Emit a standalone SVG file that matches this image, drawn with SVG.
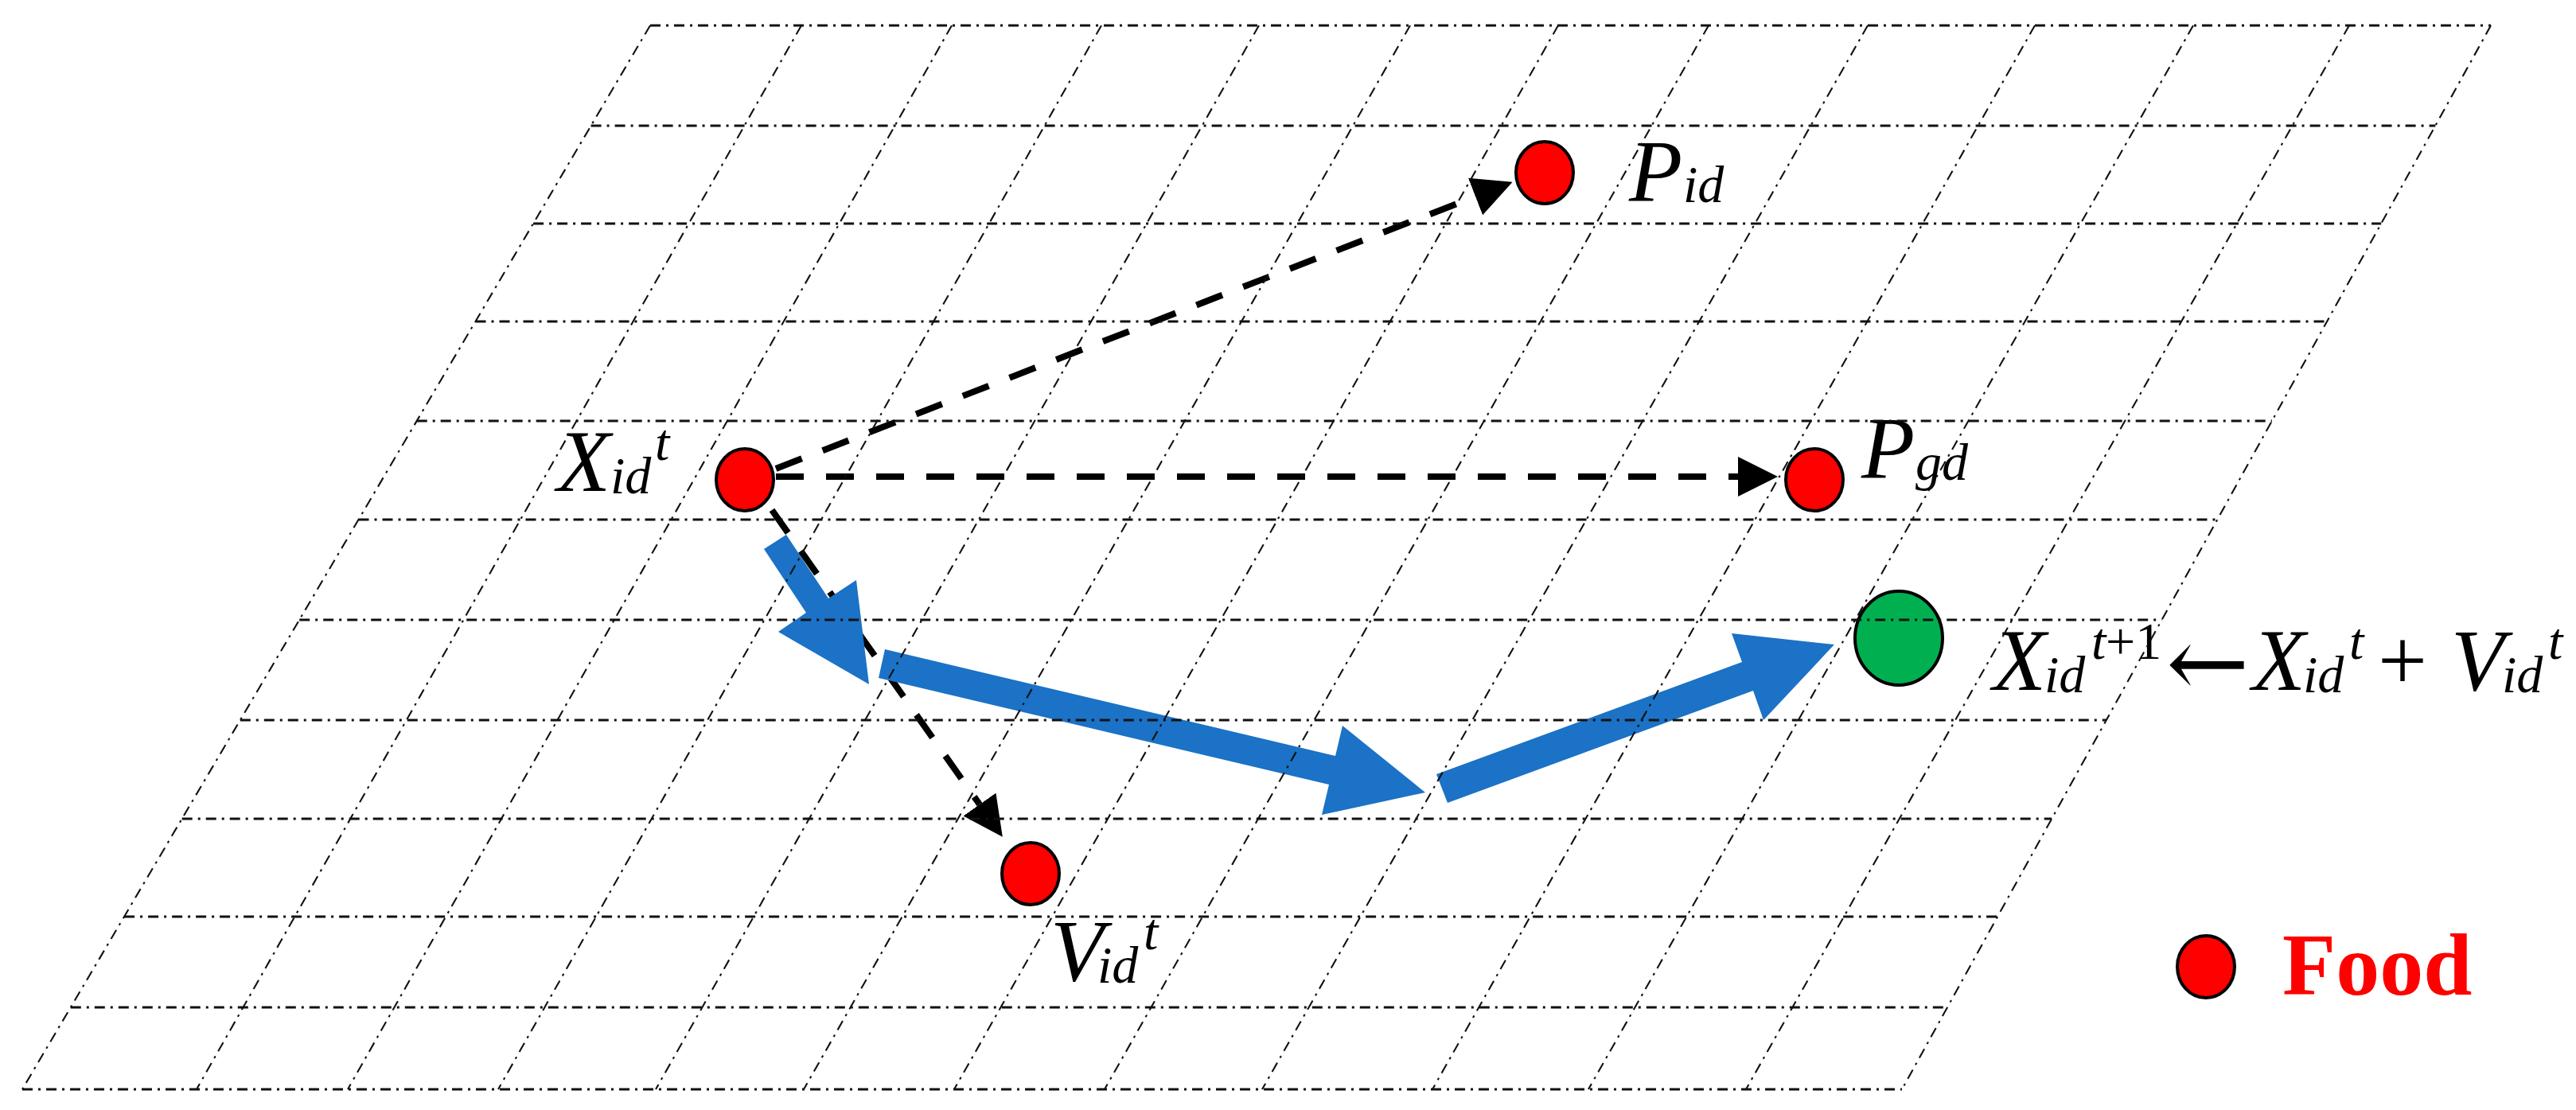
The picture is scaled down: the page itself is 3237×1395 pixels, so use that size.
<svg xmlns="http://www.w3.org/2000/svg" width="3237" height="1395" viewBox="0 0 3237 1395">
<style>
.h{stroke:#111;stroke-width:2.8;stroke-dasharray:13 7 3 7;fill:none}
.v{stroke:#111;stroke-width:2.1;stroke-dasharray:13 7 3 7;fill:none}
.dash{stroke:#000;stroke-width:8;stroke-dasharray:35 28;fill:none;marker-end:url(#ah)}
.blue{fill:#1B72C6;stroke:none}
.red{fill:#FF0000;stroke:#000;stroke-width:4}
.green{fill:#00B050;stroke:#000;stroke-width:4}
.m{font-family:"Liberation Serif","Times New Roman",serif;font-style:italic;font-size:110px;fill:#000}
.s{font-size:66px}
.up{font-style:normal}
.arr{font-family:"DejaVu Serif","Liberation Serif",serif;font-style:normal;font-size:125px}
.food{font-family:"Liberation Serif","Times New Roman",serif;font-weight:bold;font-size:110px;fill:#FF0000}
</style>
<defs>
<marker id="ah" markerUnits="userSpaceOnUse" viewBox="0 0 50 50" refX="0" refY="25" markerWidth="50" markerHeight="50" orient="auto">
<path d="M0,0 L50,25 L0,50 z" fill="#000"/>
</marker>
</defs>
<rect width="3237" height="1395" fill="#fff"/>

<g id="connectors">
<path class="dash" d="M975,589 L1854,247"/>
<path class="dash" d="M975,599 L2184,599"/>
<path class="dash" d="M970,641 L1231,1011"/>
<polygon class="blue" points="960,690 988,672 1041,752 1076,729 1092,860 978,794 1013,770"/>
<polygon class="blue" points="1112,816 1678,950 1687,912 1791,996 1661,1024 1670,986 1104,852"/>
<polygon class="blue" points="1805,973 2189,832 2176,796 2305,810 2216,905 2203,868 1819,1009"/>
</g>

<g id="node-xid">
<ellipse class="red" cx="936" cy="603" rx="36" ry="39"/>
<text class="m"><tspan x="700" y="617">X</tspan><tspan class="s" x="767" y="620">id</tspan><tspan class="s" x="823" y="578">t</tspan></text>
</g>
<g id="node-pid">
<ellipse class="red" cx="1941" cy="217" rx="36" ry="39"/>
<text class="m"><tspan x="2047" y="252">P</tspan><tspan class="s" x="2115" y="254">id</tspan></text>
</g>
<g id="node-pgd">
<ellipse class="red" cx="2280" cy="603" rx="36" ry="39"/>
<text class="m"><tspan x="2339" y="600">P</tspan><tspan class="s" x="2407" y="603">gd</tspan></text>
</g>
<g id="node-vid">
<ellipse class="red" cx="1295" cy="1098" rx="36" ry="39"/>
<text class="m"><tspan x="1320" y="1232">V</tspan><tspan class="s" x="1379" y="1235">id</tspan><tspan class="s" x="1437" y="1193">t</tspan></text>
</g>
<g id="node-xnext">
<ellipse class="green" cx="2386" cy="802" rx="55" ry="59"/>
<text class="m"><tspan x="2504" y="867">X</tspan><tspan class="s" x="2569" y="870">id</tspan><tspan class="s" x="2628" y="828">t</tspan><tspan class="s up" x="2646" y="828">+1</tspan><tspan class="arr" x="2722" y="876">←</tspan><tspan x="2830" y="867">X</tspan><tspan class="s" x="2894" y="870">id</tspan><tspan class="s" x="2952" y="828">t</tspan><tspan class="up" x="2988" y="867">+</tspan><tspan x="3080" y="867">V</tspan><tspan class="s" x="3144" y="870">id</tspan><tspan class="s" x="3202" y="828">t</tspan></text>
</g>
<g id="legend-food">
<ellipse class="red" cx="2772" cy="1215" rx="36" ry="39"/>
<text class="food" x="2868" y="1250">Food</text>
</g>

<g id="grid">
<line class="h" x1="817" y1="32" x2="3130" y2="32"/>
<line class="h" x1="742.6" y1="158" x2="3060.3" y2="158"/>
<line class="h" x1="670.1" y1="281" x2="2992.2" y2="281"/>
<line class="h" x1="597.5" y1="404" x2="2924.1" y2="404"/>
<line class="h" x1="523.7" y1="529" x2="2854.9" y2="529"/>
<line class="h" x1="450.5" y1="653" x2="2786.3" y2="653"/>
<line class="h" x1="376.2" y1="779" x2="2716.5" y2="779"/>
<line class="h" x1="301.8" y1="905" x2="2646.8" y2="905"/>
<line class="h" x1="228.7" y1="1029" x2="2578.2" y2="1029"/>
<line class="h" x1="156.1" y1="1152" x2="2510.1" y2="1152"/>
<line class="h" x1="88.8" y1="1266" x2="2447" y2="1266"/>
<line class="h" x1="28" y1="1369" x2="2390" y2="1369"/>
<line class="v" x1="817" y1="32" x2="28" y2="1369"/>
<line class="v" x1="1007" y1="32" x2="247" y2="1369"/>
<line class="v" x1="1196" y1="32" x2="437" y2="1369"/>
<line class="v" x1="1384" y1="32" x2="626" y2="1369"/>
<line class="v" x1="1582" y1="32" x2="824" y2="1369"/>
<line class="v" x1="1772" y1="32" x2="1010" y2="1369"/>
<line class="v" x1="1958" y1="32" x2="1199" y2="1369"/>
<line class="v" x1="2147" y1="32" x2="1388" y2="1369"/>
<line class="v" x1="2347" y1="32" x2="1586" y2="1369"/>
<line class="v" x1="2557" y1="32" x2="1800" y2="1369"/>
<line class="v" x1="2756" y1="32" x2="1996" y2="1369"/>
<line class="v" x1="2952" y1="32" x2="2194" y2="1369"/>
<line class="v" x1="3130" y1="32" x2="2390" y2="1369"/>
</g>
</svg>
